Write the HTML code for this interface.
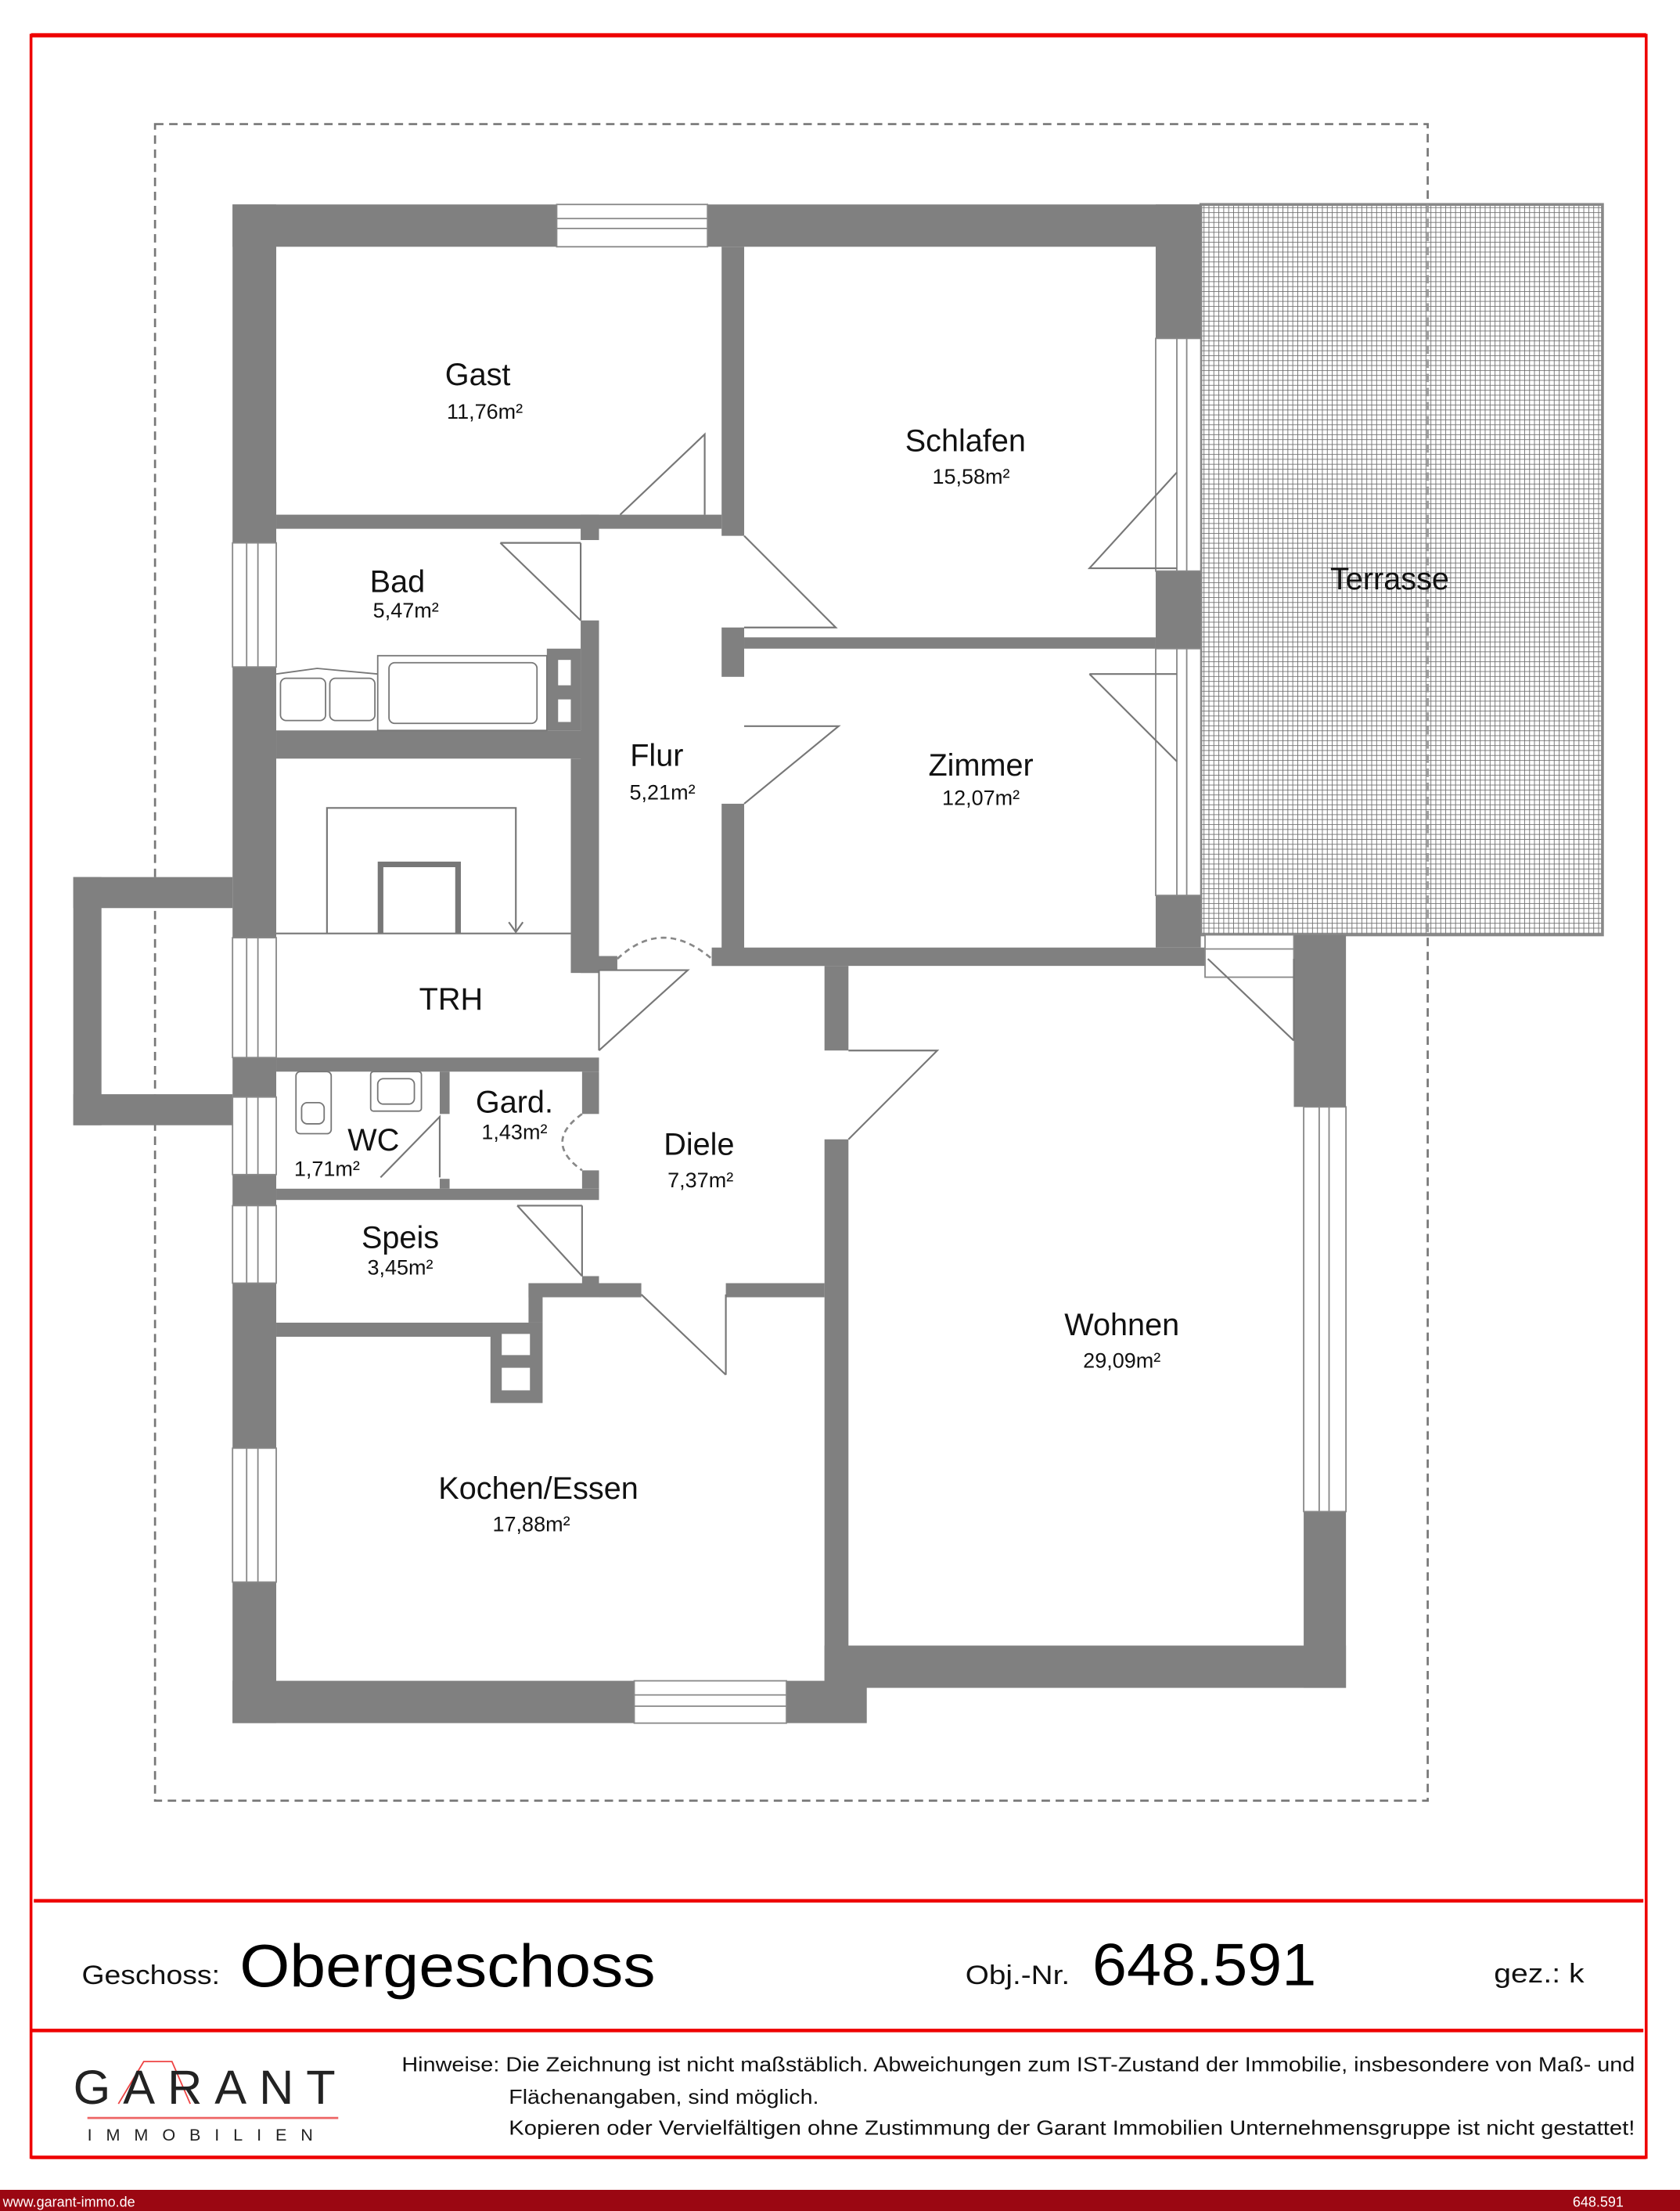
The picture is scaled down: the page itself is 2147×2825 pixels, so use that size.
<!DOCTYPE html>
<html><head><meta charset="utf-8"><style>
html,body{margin:0;padding:0;background:#fff}
svg{display:block}
text{font-family:"Liberation Sans",sans-serif}
</style></head><body>
<svg width="2147" height="2825" viewBox="0 0 1192 1568" preserveAspectRatio="none" xmlns="http://www.w3.org/2000/svg">
<defs>
<pattern id="grid" width="3.5" height="3.5" patternUnits="userSpaceOnUse">
<rect width="3.5" height="3.5" fill="#fff"/>
<path d="M0 0H3.5M0 0V3.5" stroke="#6e6e6e" stroke-width="1" fill="none"/>
</pattern>
</defs>
<rect width="1192" height="1568" fill="#fff"/>
<rect x="22" y="25" width="1146" height="1505" fill="none" stroke="#e00" stroke-width="2"/>
<line x1="22" y1="25" x2="1168" y2="25" stroke="#e00" stroke-width="3"/>
<line x1="24" y1="1348" x2="1166" y2="1348" stroke="#e00" stroke-width="2.5"/>
<line x1="22" y1="1440" x2="1166" y2="1440" stroke="#e00" stroke-width="2.5"/>
<line x1="22" y1="1530" x2="1168" y2="1530" stroke="#e00" stroke-width="2.5"/>
<rect x="0" y="1553" width="1192" height="15" fill="#9b0712"/>
<text x="2" y="1565" font-size="10" fill="#fff">www.garant-immo.de</text>
<text x="1152" y="1565" font-size="10" fill="#fff" text-anchor="end">648.591</text>

<rect x="110" y="88" width="903" height="1189" fill="none" stroke="#777" stroke-width="1.5" stroke-dasharray="6,4"/>

<rect x="852" y="145" width="285" height="518" fill="url(#grid)" stroke="#888" stroke-width="2"/>
<line x1="1013" y1="145" x2="1013" y2="663" stroke="#999" stroke-width="1.5" stroke-dasharray="6,4"/>
<text x="986" y="418" font-size="22" text-anchor="middle" fill="#111">Terrasse</text>

<g fill="#808080">
<rect x="165" y="145" width="687" height="30"/>
<rect x="165" y="145" width="31" height="1077"/>
<rect x="52" y="622" width="113" height="22"/>
<rect x="52" y="622" width="20" height="176"/>
<rect x="52" y="776" width="113" height="22"/>
<rect x="820" y="145" width="32" height="95"/>
<rect x="820" y="405" width="32" height="55"/>
<rect x="820" y="635" width="32" height="37"/>
<rect x="196" y="365" width="316" height="10"/>
<rect x="412" y="365" width="13" height="18"/>
<rect x="512" y="175" width="16" height="205"/>
<rect x="512" y="445" width="16" height="35"/>
<rect x="512" y="570" width="16" height="108"/>
<rect x="528" y="452" width="292" height="8"/>
<rect x="412" y="440" width="13" height="250"/>
<rect x="405" y="538" width="20" height="152"/>
<rect x="196" y="518" width="229" height="20"/>
<rect x="388" y="460" width="24" height="58"/>
<rect x="505" y="672" width="350" height="13"/>
<rect x="918" y="663" width="37" height="122"/>
<rect x="925" y="1072" width="30" height="125"/>
<rect x="585" y="685" width="17" height="60"/>
<rect x="585" y="808" width="17" height="389"/>
<rect x="585" y="1167" width="370" height="30"/>
<rect x="165" y="1192" width="450" height="30"/>
<rect x="375" y="910" width="80" height="10"/>
<rect x="515" y="910" width="70" height="10"/>
<rect x="375" y="910" width="10" height="28"/>
<rect x="348" y="938" width="37" height="57"/>
<rect x="196" y="938" width="180" height="10"/>
<rect x="196" y="750" width="229" height="10"/>
<rect x="196" y="843" width="229" height="8"/>
<rect x="312" y="760" width="7" height="30"/>
<rect x="312" y="836" width="7" height="7"/>
<rect x="413" y="760" width="12" height="30"/>
<rect x="413" y="830" width="12" height="13"/>
<rect x="413" y="905" width="12" height="13"/>
<rect x="425" y="910" width="30" height="10"/>
<rect x="425" y="678" width="13" height="10"/>
<rect x="505" y="675" width="80" height="10"/>
</g>
<rect x="396" y="468" width="9" height="18" fill="#fff"/>
<rect x="396" y="496" width="9" height="16" fill="#fff"/>
<rect x="356" y="946" width="20" height="15" fill="#fff"/>
<rect x="356" y="970" width="20" height="16" fill="#fff"/>

<g fill="#fff" stroke="#888" stroke-width="1">
<rect x="395" y="145" width="107" height="30"/>
<rect x="165" y="385" width="31" height="88"/>
<rect x="165" y="665" width="31" height="85"/>
<rect x="165" y="778" width="31" height="55"/>
<rect x="165" y="855" width="31" height="55"/>
<rect x="165" y="1027" width="31" height="95"/>
<rect x="820" y="240" width="32" height="165"/>
<rect x="820" y="460" width="32" height="175"/>
<rect x="925" y="785" width="30" height="287"/>
<rect x="450" y="1192" width="108" height="30"/>
<rect x="855" y="663" width="63" height="30"/>
</g>
<g stroke="#888" stroke-width="1">
<line x1="395" y1="155" x2="502" y2="155"/><line x1="395" y1="162" x2="502" y2="162"/>
<line x1="175" y1="385" x2="175" y2="473"/><line x1="183" y1="385" x2="183" y2="473"/>
<line x1="175" y1="665" x2="175" y2="750"/><line x1="183" y1="665" x2="183" y2="750"/>
<line x1="175" y1="778" x2="175" y2="833"/><line x1="183" y1="778" x2="183" y2="833"/>
<line x1="175" y1="855" x2="175" y2="910"/><line x1="183" y1="855" x2="183" y2="910"/>
<line x1="175" y1="1027" x2="175" y2="1122"/><line x1="183" y1="1027" x2="183" y2="1122"/>
<line x1="835" y1="240" x2="835" y2="405"/><line x1="842" y1="240" x2="842" y2="405"/>
<line x1="835" y1="460" x2="835" y2="635"/><line x1="842" y1="460" x2="842" y2="635"/>
<line x1="936" y1="785" x2="936" y2="1072"/><line x1="943" y1="785" x2="943" y2="1072"/>
<line x1="450" y1="1202" x2="558" y2="1202"/><line x1="450" y1="1210" x2="558" y2="1210"/>
<line x1="855" y1="673" x2="918" y2="673"/>
</g>

<g stroke="#777" stroke-width="1.2" fill="none">
<path d="M440 365 L500 308 L500 365"/>
<path d="M355 385 L412 385 M355 385 L412 440 M412 385 V440"/>
<path d="M528 380 L593 445 L528 445"/>
<path d="M528 515 L595 515 L528 570"/>
<path d="M835 335 L773 403 L835 403"/>
<path d="M773 478 L835 478 M773 478 L835 540"/>
<path d="M857 680 L918 738 M918 680 V738"/>
<path d="M602 745 L665 745 L602 808"/>
<path d="M425 688 L488 688 L425 745 M425 688 V745"/>
<path d="M367 855 L413 905 M413 855 V905 M367 855 L413 855"/>
<path d="M455 918 L515 975 M515 918 V975"/>
<path d="M270 835 L312 792 V835"/>
</g>
<g stroke="#888" stroke-width="1.5" fill="none" stroke-dasharray="4,3">
<path d="M438 680 Q470 650 505 680"/>
<path d="M413 790 Q385 810 413 830"/>
</g>

<g stroke="#777" stroke-width="1" fill="none">
<rect x="268" y="465" width="120" height="53"/>
<rect x="276" y="470" width="105" height="43" rx="4"/>
<path d="M196 478 L225 474 L268 478"/>
<rect x="199" y="481" width="32" height="30" rx="4"/>
<rect x="234" y="481" width="32" height="30" rx="4"/>
<rect x="210" y="760" width="25" height="44" rx="3"/>
<rect x="214" y="782" width="16" height="15" rx="4"/>
<rect x="263" y="760" width="36" height="28" rx="2"/>
<rect x="268" y="765" width="26" height="18" rx="4"/>
</g>
<g stroke="#777" stroke-width="1.2" fill="none">
<path d="M196 662 H405"/>
<path d="M232 662 V573 H366 V660"/>
<path d="M361 654 L366 661 L371 654"/>
</g>
<path d="M270 662 V613 H325 V662" stroke="#777" stroke-width="4" fill="none"/>

<g fill="#111" text-anchor="middle">
<text x="339" y="273" font-size="22">Gast</text>
<text x="344" y="297" font-size="15">11,76m²</text>
<text x="685" y="320" font-size="22">Schlafen</text>
<text x="689" y="343" font-size="15">15,58m²</text>
<text x="282" y="420" font-size="22">Bad</text>
<text x="288" y="438" font-size="15">5,47m²</text>
<text x="466" y="543" font-size="22">Flur</text>
<text x="470" y="567" font-size="15">5,21m²</text>
<text x="696" y="550" font-size="22">Zimmer</text>
<text x="696" y="571" font-size="15">12,07m²</text>
<text x="320" y="716" font-size="22">TRH</text>
<text x="365" y="789" font-size="22">Gard.</text>
<text x="365" y="808" font-size="15">1,43m²</text>
<text x="265" y="816" font-size="22">WC</text>
<text x="232" y="834" font-size="15">1,71m²</text>
<text x="496" y="819" font-size="22">Diele</text>
<text x="497" y="842" font-size="15">7,37m²</text>
<text x="284" y="885" font-size="22">Speis</text>
<text x="284" y="904" font-size="15">3,45m²</text>
<text x="796" y="947" font-size="22">Wohnen</text>
<text x="796" y="970" font-size="15">29,09m²</text>
<text x="382" y="1063" font-size="22">Kochen/Essen</text>
<text x="377" y="1086" font-size="15">17,88m²</text>
</g>

<text x="58" y="1407" font-size="19" fill="#111" textLength="98" lengthAdjust="spacingAndGlyphs">Geschoss:</text>
<text x="170" y="1409" font-size="43" fill="#000" textLength="295" lengthAdjust="spacingAndGlyphs">Obergeschoss</text>
<text x="685" y="1407" font-size="19" fill="#111" textLength="74" lengthAdjust="spacingAndGlyphs">Obj.-Nr.</text>
<text x="775" y="1408" font-size="42" fill="#000" textLength="159" lengthAdjust="spacingAndGlyphs">648.591</text>
<text x="1060" y="1406" font-size="19" fill="#111" textLength="64" lengthAdjust="spacingAndGlyphs">gez.: k</text>

<path d="M84 1492 L102 1462 H122 L135 1492" stroke="#e44" stroke-width="1" fill="none"/>
<text x="52" y="1492" font-size="34" font-family="Liberation Serif,serif" fill="#222" textLength="186" lengthAdjust="spacing">GARANT</text>
<line x1="62" y1="1502" x2="240" y2="1502" stroke="#e66" stroke-width="1.5"/>
<text x="62" y="1518" font-size="12" fill="#222" textLength="160" lengthAdjust="spacing">IMMOBILIEN</text>

<g font-size="14.5" fill="#111">
<text x="285" y="1469" textLength="875" lengthAdjust="spacingAndGlyphs">Hinweise: Die Zeichnung ist nicht maßstäblich. Abweichungen zum IST-Zustand der Immobilie, insbesondere von Maß- und</text>
<text x="361" y="1492" textLength="220" lengthAdjust="spacingAndGlyphs">Flächenangaben, sind möglich.</text>
<text x="361" y="1514" textLength="799" lengthAdjust="spacingAndGlyphs">Kopieren oder Vervielfältigen ohne Zustimmung der Garant Immobilien Unternehmensgruppe ist nicht gestattet!</text>
</g>
</svg>
</body></html>
